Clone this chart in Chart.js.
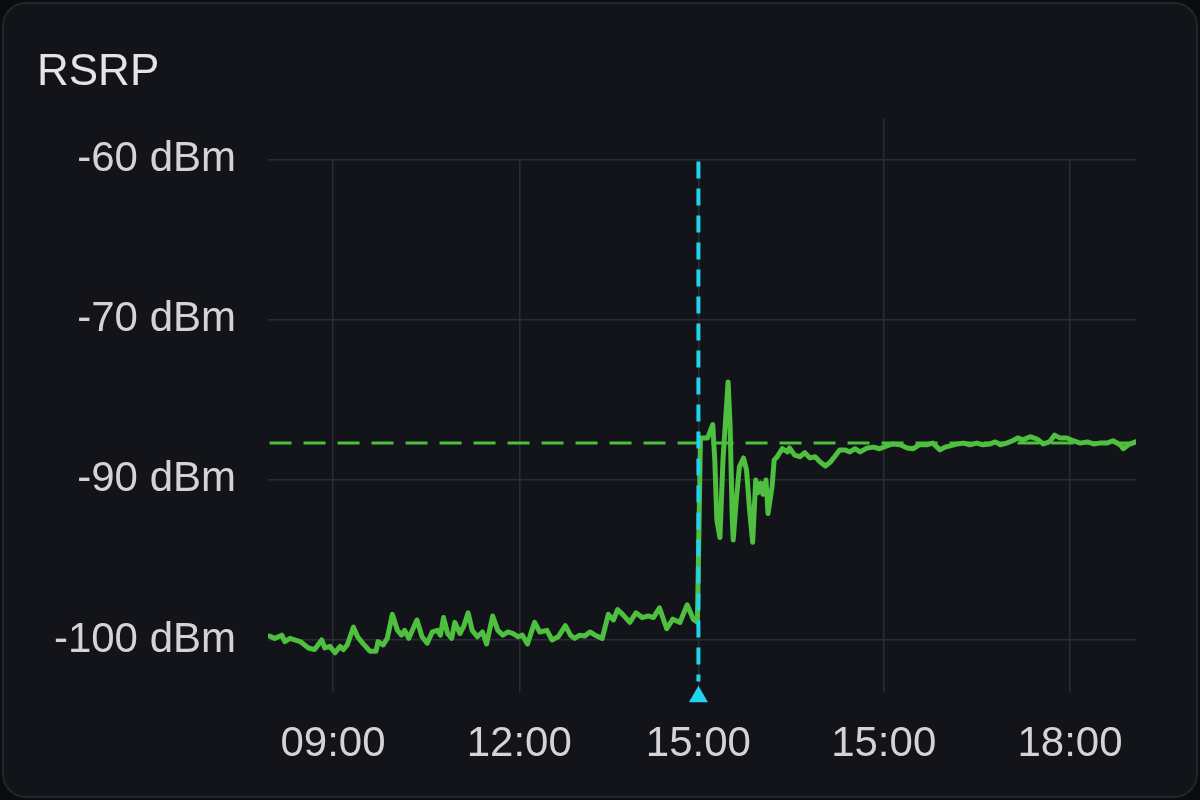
<!DOCTYPE html>
<html><head><meta charset="utf-8">
<script src="https://cdn.jsdelivr.net/npm/chart.js@4.4.1/dist/chart.umd.min.js"></script>
<style>
html,body{margin:0;padding:0;background:#0b0c0f;width:1200px;height:800px;overflow:hidden}
#card{position:absolute;left:2px;top:2px;width:1196px;height:796px;border:2px solid #22252c;border-radius:24px;background:#121419;box-sizing:border-box}
#wrap{position:absolute;left:0;top:0;width:1200px;height:800px}
</style></head><body>
<div id="card"></div>
<div id="wrap"><canvas id="c" width="1200" height="800"></canvas></div>
<script>
const chartTitle = "RSRP";
const yTickValues = [-60, -70, -90, -100];
const yTickLabels = ["-60 dBm", "-70 dBm", "-90 dBm", "-100 dBm"];
// minutes after the 09:00 tick
const xTickValues = [0, 182, 357, 538, 720];
const xTickLabels = ["09:00", "12:00", "15:00", "15:00", "18:00"];
const xMin = -63.5, xMax = 784.5;
const yMinDbm = -103.25;
const eventTime = 357;
const thresholdDbm = -85.4;

const times = [-62,-57,-50,-47,-42,-32,-24,-18,-11,-8,-3,2,7,10,14,20,24,29,36,42,44,49,53,58,63,67,70,74,82,87,92,97,102,105,108,112,116,119,124,128,132,136,141,146,150,156,161,166,171,176,181,185,190,197,202,209,214,220,227,232,236,241,246,251,256,263,269,274,278,283,290,296,302,308,313,319,326,332,339,346,352,356,
359,363,366,371,373,375,378,381,386,388,390,391,394,397,401,404,407,410,413,415,418,420,423,425,429,431,434,439,444,446,451,456,461,466,471,476,481,486,490,495,500,505,510,515,522,528,534,541,547,554,561,567,573,580,586,593,598,603,610,616,622,629,635,642,647,652,658,664,669,674,681,688,694,700,705,710,717,723,730,737,743,749,756,762,769,772,777,784];
const rsrp = [-99.75,-99.9,-99.7,-100.1,-99.9,-100.1,-100.5,-100.6,-100.0,-100.5,-100.4,-100.8,-100.4,-100.6,-100.3,-99.2,-99.8,-100.2,-100.7,-100.7,-100.1,-100.3,-99.9,-98.4,-99.4,-99.7,-99.4,-99.9,-98.75,-99.8,-100.2,-99.5,-99.4,-99.7,-98.6,-99.6,-99.9,-98.9,-99.6,-99.1,-98.3,-99.4,-99.8,-99.5,-100.25,-98.5,-99.4,-99.7,-99.5,-99.6,-99.8,-99.7,-100.25,-98.9,-99.5,-99.4,-100.0,-99.8,-99.1,-99.7,-99.9,-99.7,-99.75,-99.5,-99.7,-99.9,-98.4,-98.75,-98.1,-98.4,-98.9,-98.3,-98.6,-98.5,-98.6,-98.0,-99.3,-98.7,-98.9,-97.8,-98.7,-98.9,
-84.75,-84.75,-84.75,-83.1,-87.5,-92.5,-93.6,-87.5,-77.75,-83.4,-92.3,-93.75,-91.25,-88.4,-87.25,-88.75,-91.9,-93.9,-90.0,-90.8,-90.2,-90.9,-90.0,-92.1,-90.4,-87.5,-87.1,-86.1,-86.5,-86.0,-86.9,-87.1,-86.6,-87.25,-87.1,-87.75,-88.25,-87.75,-87.1,-86.25,-86.25,-86.5,-86.1,-86.5,-86.0,-85.9,-86.1,-85.75,-85.5,-85.6,-86.0,-86.1,-85.6,-85.6,-85.4,-86.25,-85.9,-85.75,-85.5,-85.4,-85.6,-85.4,-85.6,-85.5,-85.25,-85.6,-85.4,-85.1,-84.75,-85.0,-84.6,-84.9,-85.5,-85.25,-84.4,-84.75,-84.75,-85.1,-85.4,-85.25,-85.5,-85.4,-85.4,-85.1,-85.6,-86.1,-85.6,-85.25];

// the axis is evenly spaced between its (unevenly valued) tick labels
const ySorted = yTickValues.slice().sort((a, b) => a - b);
function toPos(v) {
  let i = 0;
  if (v > ySorted[1]) i = (v > ySorted[2]) ? 2 : 1;
  return i + (v - ySorted[i]) / (ySorted[i + 1] - ySorted[i]);
}

const series = times.map((t, i) => ({ x: t, y: toPos(rsrp[i]) }));
const FONT = "'Liberation Sans', Arial, sans-serif";
const GRID = '#2a2d36';

// the grid line at the 4th time tick runs a little above the plot in the reference
const gridStub = {
  id: 'gridStub',
  beforeDatasetsDraw(chart) {
    const { ctx, chartArea, scales } = chart;
    const x = scales.x.getPixelForValue(xTickValues[3]);
    ctx.save();
    ctx.strokeStyle = GRID; ctx.lineWidth = 1.5;
    ctx.beginPath(); ctx.moveTo(x, chartArea.top - 42); ctx.lineTo(x, chartArea.top); ctx.stroke();
    ctx.restore();
  }
};

new Chart(document.getElementById('c'), {
  type: 'line',
  data: {
    datasets: [
      { label: 'event', data: [{ x: eventTime, y: toPos(-60.1) }, { x: eventTime, y: toPos(-102.6) }],
        borderColor: '#22d3ee', borderWidth: 4, borderDash: [17, 10], pointRadius: 0, order: 0 },
      { label: 'eventMarker', data: [{ x: eventTime, y: toPos(-103.55) }], showLine: false,
        pointStyle: 'triangle', pointRadius: 11, pointBackgroundColor: '#22d3ee', pointBorderWidth: 0,
        borderColor: '#22d3ee', clip: false, order: 0 },
      { label: 'RSRP', data: series, borderColor: '#4ebf3e', borderWidth: 5, pointRadius: 0,
        tension: 0, borderJoinStyle: 'round', borderCapStyle: 'round', order: 1 },
      { label: 'threshold', data: [{ x: times[0], y: toPos(thresholdDbm) }, { x: times[times.length - 1], y: toPos(thresholdDbm) }],
        borderColor: '#4ebf3e', borderWidth: 3, borderDash: [22, 12], pointRadius: 0, order: 2 }
    ]
  },
  options: {
    responsive: false, animation: false, devicePixelRatio: 1,
    layout: { padding: { left: 37, right: 64, top: 0, bottom: 0 } },
    plugins: {
      legend: { display: false }, tooltip: { enabled: false },
      title: { display: true, text: chartTitle, align: 'start', color: '#e4e4e7',
        font: { family: FONT, size: 44, weight: 'normal' }, padding: { top: 46, bottom: 61 } }
    },
    scales: {
      x: {
        type: 'linear', min: xMin, max: xMax,
        afterBuildTicks: s => { s.ticks = xTickValues.map(v => ({ value: v })); },
        afterFit: s => { s.height = 108; },
        grid: { color: GRID, lineWidth: 1.5, drawTicks: false },
        border: { display: false },
        ticks: { autoSkip: false, maxRotation: 0, padding: 27, color: '#d4d4d8',
          font: { family: FONT, size: 42 },
          callback: v => xTickLabels[xTickValues.indexOf(v)] }
      },
      y: {
        type: 'linear', min: toPos(yMinDbm), max: toPos(-60),
        afterBuildTicks: s => { s.ticks = ySorted.map((v, i) => ({ value: i })); },
        afterFit: s => { s.width = 231; },
        grid: { color: GRID, lineWidth: 1.5, drawTicks: false },
        border: { display: false },
        ticks: { autoSkip: false, padding: 32, color: '#d4d4d8',
          font: { family: FONT, size: 42 },
          callback: v => yTickLabels[yTickValues.indexOf(ySorted[v])] }
      }
    }
  },
  plugins: [gridStub]
});
</script>
</body></html>
